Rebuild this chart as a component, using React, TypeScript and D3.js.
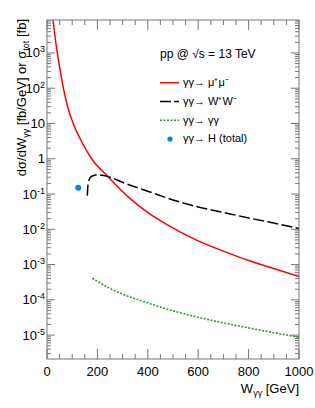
import React from 'react';
import * as d3 from 'd3';

// gamma gamma -> mu+ mu-  [W (GeV), dsigma/dW (fb/GeV)]
const muMu: [number, number][] = [
  [24, 8600], [33, 2500], [41, 1000], [52, 330], [65, 100], [82, 30],
  [104, 10], [135, 3.3], [177, 1.0], [242, 0.31], [329, 0.075],
  [409, 0.027], [448, 0.018], [515, 0.0095], [600, 0.0047],
  [700, 0.0024], [800, 0.0013], [900, 0.00077], [1000, 0.00046],
];
// gamma gamma -> W+ W-
const wW: [number, number][] = [
  [160, 0.09], [162, 0.16], [165, 0.22], [170, 0.28], [180, 0.325],
  [195, 0.345], [210, 0.345], [250, 0.3], [300, 0.215], [400, 0.12],
  [500, 0.068], [600, 0.043], [700, 0.03], [800, 0.021], [900, 0.015],
  [1000, 0.0105],
];
// gamma gamma -> gamma gamma
const gg: [number, number][] = [
  [180, 4.1e-4], [250, 2.1e-4], [300, 1.45e-4], [409, 7.8e-5],
  [448, 6.3e-5], [600, 3.2e-5], [800, 1.6e-5], [1000, 8.7e-6],
];
// gamma gamma -> H (total)
const higgs: [number, number][] = [[124, 0.15]];

const xMajor = [0, 200, 400, 600, 800, 1000];
const yDecades = [-5, -4, -3, -2, -1, 0, 1, 2, 3];

const W = 315;
const H = 408;
const m = { left: 47, right: 299, top: 20, bottom: 359 };
const frame = '#777';
const font = "'Liberation Sans', Arial, Helvetica, sans-serif";

const App = () => {
  const x = d3.scaleLinear().domain([0, 1000]).range([m.left, m.right]);
  const y = d3.scaleLog().domain([2.1e-6, 8600]).range([m.bottom, m.top]);

  const line = d3
    .line<[number, number]>()
    .x((d) => x(d[0]))
    .y((d) => y(d[1]))
    .curve(d3.curveMonotoneX);

  const xMinor = d3.range(0, 1001, 50).filter((v) => v % 200 !== 0);
  const [y0, y1] = y.domain();
  const yMinor: number[] = [];
  for (let e = -6; e <= 3; e++) {
    for (let k = 2; k <= 9; k++) {
      const v = k * Math.pow(10, e);
      if (v >= y0 && v <= y1) yMinor.push(v);
    }
  }

  const yLabel = (e: number) => {
    if (e === 0) return <tspan>1</tspan>;
    if (e === 1) return <tspan>10</tspan>;
    return (
      <>
        <tspan>10</tspan>
        <tspan dy={-5} fontSize={9}>{e}</tspan>
      </>
    );
  };

  const legend = [
    { label: 'μ⁺μ⁻', kind: 'red' },
    { label: 'W⁺W⁻', kind: 'black' },
    { label: 'γγ', kind: 'green' },
    { label: 'H (total)', kind: 'dot' },
  ];

  return (
    <svg
      width={W}
      height={H}
      style={{ position: 'absolute', left: 0, top: 0, background: '#fff' }}
      fontFamily={font}
    >
      <defs>
        <clipPath id="plot">
          <rect x={m.left} y={m.top} width={m.right - m.left} height={m.bottom - m.top} />
        </clipPath>
      </defs>

      {/* ticks */}
      <g stroke={frame} strokeWidth={1}>
        {xMajor.map((v) => (
          <g key={'xM' + v}>
            <line x1={x(v)} x2={x(v)} y1={m.bottom} y2={m.bottom - 10} />
            <line x1={x(v)} x2={x(v)} y1={m.top} y2={m.top + 10} />
          </g>
        ))}
        {xMinor.map((v) => (
          <g key={'xm' + v}>
            <line x1={x(v)} x2={x(v)} y1={m.bottom} y2={m.bottom - 5} />
            <line x1={x(v)} x2={x(v)} y1={m.top} y2={m.top + 5} />
          </g>
        ))}
        {yDecades.map((e) => {
          const yy = y(Math.pow(10, e));
          return (
            <g key={'yM' + e}>
              <line x1={m.left} x2={m.left + 8} y1={yy} y2={yy} />
              <line x1={m.right} x2={m.right - 8} y1={yy} y2={yy} />
            </g>
          );
        })}
        {yMinor.map((v, i) => (
          <g key={'ym' + i}>
            <line x1={m.left} x2={m.left + 4} y1={y(v)} y2={y(v)} />
            <line x1={m.right} x2={m.right - 4} y1={y(v)} y2={y(v)} />
          </g>
        ))}
      </g>

      {/* curves */}
      <g clipPath="url(#plot)" fill="none">
        <path d={line(muMu) || ''} stroke="#ff0000" strokeWidth={1.5} />
        <path d={line(wW) || ''} stroke="#000" strokeWidth={1.5} strokeDasharray="11,3.5" />
        <path d={line(gg) || ''} stroke="#2e9a2e" strokeWidth={1.6} strokeDasharray="2,1.5" />
        {higgs.map((d, i) => (
          <circle key={i} cx={x(d[0])} cy={y(d[1])} r={3} fill="#0a7cff" />
        ))}
      </g>

      {/* frame */}
      <rect
        x={m.left}
        y={m.top}
        width={m.right - m.left}
        height={m.bottom - m.top}
        fill="none"
        stroke={frame}
        strokeWidth={1}
      />

      {/* tick labels */}
      <g fontSize={13} fill="#000">
        {xMajor.map((v) => (
          <text key={'xl' + v} x={x(v)} y={376} textAnchor="middle">
            {v}
          </text>
        ))}
        {yDecades.map((e) => (
          <text key={'yl' + e} x={45} y={y(Math.pow(10, e)) + 4.5} textAnchor="end">
            {yLabel(e)}
          </text>
        ))}
      </g>

      {/* axis titles */}
      <text x={m.right} y={393} textAnchor="end" fontSize={13}>
        W<tspan dy={3} fontSize={9}>γγ</tspan>
        <tspan dy={-3}> [GeV]</tspan>
      </text>
      <text
        transform={`translate(26,19) rotate(-90)`}
        textAnchor="end"
        fontSize={13}
      >
        dσ/dW<tspan dy={3} fontSize={9}>γγ</tspan>
        <tspan dy={-3}> [fb/GeV] or σ</tspan>
        <tspan dy={3} fontSize={9}>tot</tspan>
        <tspan dy={-3}> [fb]</tspan>
      </text>

      {/* legend */}
      <text x={160} y={57.5} fontSize={12}>
        pp @ √s = 13 TeV
      </text>
      {legend.map((l, i) => {
        const ly = 82.7 + i * 18.8;
        return (
          <g key={l.kind}>
            {l.kind === 'red' && (
              <line x1={160} x2={179} y1={ly} y2={ly} stroke="#ff0000" strokeWidth={1.5} />
            )}
            {l.kind === 'black' && (
              <line x1={160} x2={179} y1={ly} y2={ly} stroke="#000" strokeWidth={1.5} strokeDasharray="11,3" />
            )}
            {l.kind === 'green' && (
              <line x1={160} x2={179} y1={ly} y2={ly} stroke="#2e9a2e" strokeWidth={1.6} strokeDasharray="2,1.5" />
            )}
            {l.kind === 'dot' && <circle cx={170} cy={ly} r={2.6} fill="#0a7cff" />}
            <text x={183} y={ly + 3.3} fontSize={11}>
              γγ→ {l.label}
            </text>
          </g>
        );
      })}
    </svg>
  );
};

export default App;
